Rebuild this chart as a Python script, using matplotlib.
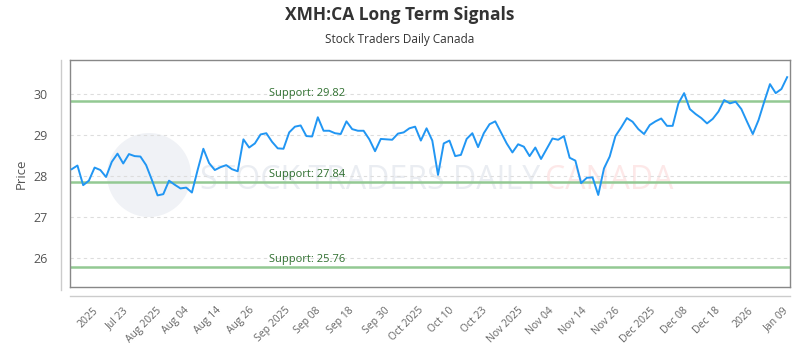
import matplotlib
matplotlib.use("Agg")
import matplotlib.pyplot as plt
import numpy as np
from matplotlib.lines import Line2D
from matplotlib.patches import Ellipse

plt.rcParams["font.family"] = ["Open Sans", "DejaVu Sans"]
narrow = ["Liberation Sans Narrow", "DejaVu Sans Condensed", "Open Sans"]

# closing prices
prices = [
    28.16, 28.25, 27.77, 27.88, 28.20, 28.14, 27.97, 28.34, 28.54, 28.30,
    28.53, 28.48, 28.47, 28.26, 27.90, 27.52, 27.55, 27.88, 27.78, 27.69,
    27.71, 27.59, 28.14, 28.66, 28.31, 28.14, 28.21, 28.26, 28.16, 28.11,
    28.89, 28.69, 28.79, 29.01, 29.04, 28.83, 28.67, 28.66, 29.06, 29.20,
    29.23, 28.97, 28.96, 29.43, 29.10, 29.10, 29.04, 29.02, 29.33, 29.14,
    29.10, 29.10, 28.89, 28.60, 28.90, 28.89, 28.88, 29.03, 29.06, 29.16,
    29.20, 28.86, 29.16, 28.86, 28.02, 28.79, 28.86, 28.48, 28.51, 28.90,
    29.04, 28.70, 29.04, 29.26, 29.33, 29.06, 28.79, 28.57, 28.77, 28.71,
    28.48, 28.69, 28.41, 28.66, 28.91, 28.88, 28.97, 28.44, 28.37, 27.82,
    27.95, 27.96, 27.53, 28.18, 28.47, 28.97, 29.18, 29.41, 29.32, 29.14,
    29.02, 29.24, 29.33, 29.40, 29.22, 29.22, 29.77, 30.02, 29.63, 29.51,
    29.41, 29.28, 29.39, 29.57, 29.85, 29.77, 29.81, 29.63, 29.32, 29.02,
    29.36, 29.81, 30.24, 30.02, 30.12, 30.41,
]

tick_labels = [
    "2025", "Jul 23", "Aug 2025", "Aug 04", "Aug 14", "Aug 26", "Sep 2025",
    "Sep 08", "Sep 18", "Sep 30", "Oct 2025", "Oct 10", "Oct 23", "Nov 2025",
    "Nov 04", "Nov 14", "Nov 26", "Dec 2025", "Dec 08", "Dec 18", "2026", "Jan 09",
]
tick_pos = [3.7, 8.9, 14.8, 19.6, 25.2, 31.0, 37.2, 42.6, 48.4, 54.7, 60.5,
            65.9, 71.7, 78.0, 83.3, 89.1, 94.9, 101.1, 106.7, 112.3, 118.1, 124.3]

supports = [29.82, 27.84, 25.76]

x = np.arange(len(prices))

fig = plt.figure(figsize=(8, 3.5), dpi=100)
ax = fig.add_axes([70 / 800, 1 - 287 / 350, 720 / 800, 227 / 350])

# faint watermark (logo circle + name)
ax.add_patch(Ellipse((79 / 720, 112 / 227), 84 / 720, 84 / 227, transform=ax.transAxes,
                     facecolor="#f0f2f6", edgecolor="none", zorder=0))
ax.text(130 / 720, 0.47, "STOCK TRADERS DAILY", transform=ax.transAxes,
        fontsize=23, color="#eaedf2", va="center", ha="left", zorder=0, family=narrow)
ax.text(475 / 720, 0.47, "CANADA", transform=ax.transAxes, fontsize=23,
        color="#fde8e8", va="center", ha="left", zorder=0, family=narrow)

for yv in [26, 27, 28, 29, 30]:
    ax.axhline(yv, color="#dddddd", linewidth=0.8, linestyle=(0, (3, 3)), zorder=1)

for s in supports:
    ax.axhline(s, color="#93c993", linewidth=1.8, zorder=2)
    ax.text(34.5, s + 0.06, "Support: %.2f" % s, color="#2f6f2f", fontsize=8,
            va="bottom", ha="left", zorder=3)

ax.plot(x, prices, color="#2196f3", linewidth=1.4, zorder=4)

ax.set_xlim(-0.3, 125.5)
ax.set_ylim(25.28, 30.83)
ax.set_yticks([26, 27, 28, 29, 30])
ax.set_xticks(tick_pos)
ax.set_xticklabels(tick_labels, rotation=45, ha="right", rotation_mode="anchor",
                   fontsize=7.5, color="#666666")
ax.tick_params(axis="x", length=0, pad=13)
ax.tick_params(axis="y", length=0, pad=16, labelsize=9, labelcolor="#555555")
ax.set_ylabel("Price", fontsize=9.5, color="#555555", labelpad=4)

for sp in ax.spines.values():
    sp.set_color("#888888")
    sp.set_linewidth(1)

# outer axis lines
fig.add_artist(Line2D([61 / 800, 61 / 800], [1 - 60 / 350, 1 - 290 / 350],
                      transform=fig.transFigure, color="#cccccc", linewidth=1))
fig.add_artist(Line2D([70 / 800, 790 / 800], [1 - 296 / 350, 1 - 296 / 350],
                      transform=fig.transFigure, color="#cccccc", linewidth=1))

fig.text(0.5, 1 - 15 / 350, "XMH:CA Long Term Signals", ha="center", va="center",
         fontsize=12.5, fontweight="bold", color="#333333", family=narrow)
fig.text(0.5, 1 - 40 / 350, "Stock Traders Daily Canada", ha="center", va="center",
         fontsize=8.5, color="#333333", family=narrow)

fig.savefig("out.png", dpi=100)
